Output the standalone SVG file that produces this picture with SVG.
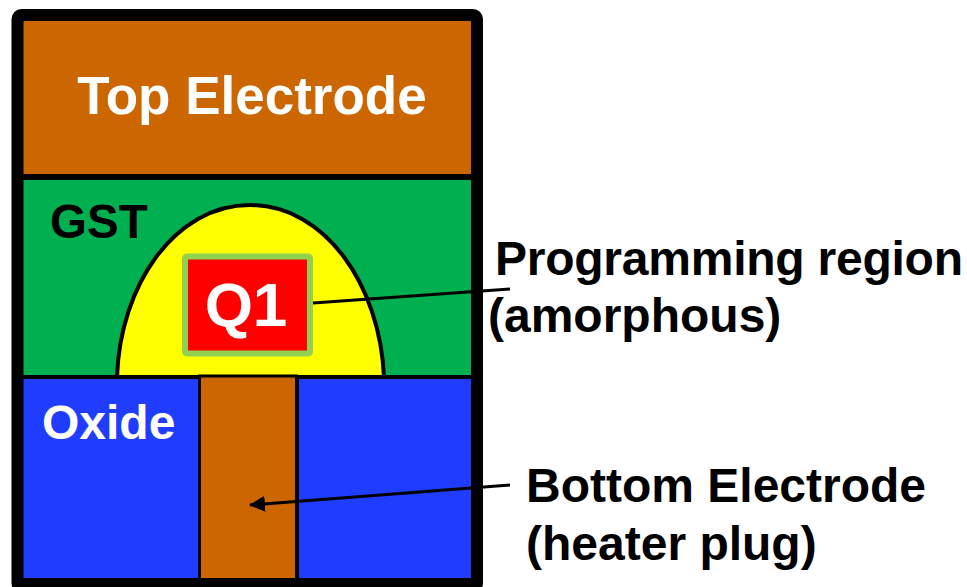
<svg xmlns="http://www.w3.org/2000/svg" width="967" height="587" viewBox="0 0 967 587">
<style>
text{font-family:"Liberation Sans",Arial,sans-serif;font-weight:bold}
.l{font-size:48px;fill:#000}
.s{stroke:#000;stroke-width:3}
</style>
<defs><marker id="a" markerUnits="userSpaceOnUse" markerWidth="16" markerHeight="16" refX="15" refY="8" orient="auto"><path d="M0 0L16 8L0 16z" fill="#000"/></marker></defs>
<rect width="967" height="587" fill="#fff"/>
<g id="top-electrode"><rect x="17" y="15" width="460" height="162" fill="#cc6600"/><text x="252" y="114" font-size="53" fill="#fff" text-anchor="middle">Top Electrode</text></g>
<g id="gst"><rect x="17" y="177" width="460" height="200" fill="#00b050"/><text x="50" y="238" font-size="47.5" fill="#000">GST</text></g>
<g id="programming-region"><path d="M117 377C120 285 175 205 250 205C325 205 380 285 384 377Z" fill="#ffff00" stroke="#000" stroke-width="4"/></g>
<g id="oxide"><rect x="17" y="377" width="460" height="207" fill="#1f3cff"/><text x="42" y="439" font-size="48" fill="#fff">Oxide</text></g>
<line x1="17" y1="177" x2="477" y2="177" stroke="#000" stroke-width="6"/>
<line x1="17" y1="377" x2="477" y2="377" stroke="#000" stroke-width="4"/>
<g id="bottom-electrode"><rect x="199.500" y="376" width="97" height="208" fill="#cc6600" stroke="#000" stroke-width="3"/><line x1="297.500" y1="376" x2="297.500" y2="580" stroke="#000" stroke-width="3"/></g>
<g id="q1"><rect x="185" y="256.500" width="125" height="97" rx="2" fill="#ff0000" stroke="#92d050" stroke-width="6"/><text x="246" y="326" font-size="62" fill="#fff" text-anchor="middle">Q1</text></g>
<g id="frame"><rect x="17.500" y="15" width="459.500" height="572" fill="none" stroke="#000" stroke-width="12" rx="4"/><rect x="23" y="578" width="448" height="9" fill="#000"/></g>
<g id="connectors"><line class="s" x1="313" y1="303" x2="510" y2="289"/><line class="s" x1="510" y1="485" x2="250" y2="505" marker-end="url(#a)"/></g>
<g id="labels"><text class="l" x="495" y="275" textLength="468">Programming region</text><text class="l" x="488" y="332">(amorphous)</text><text class="l" x="526" y="502">Bottom Electrode</text><text class="l" x="526" y="560">(heater plug)</text></g>
</svg>
